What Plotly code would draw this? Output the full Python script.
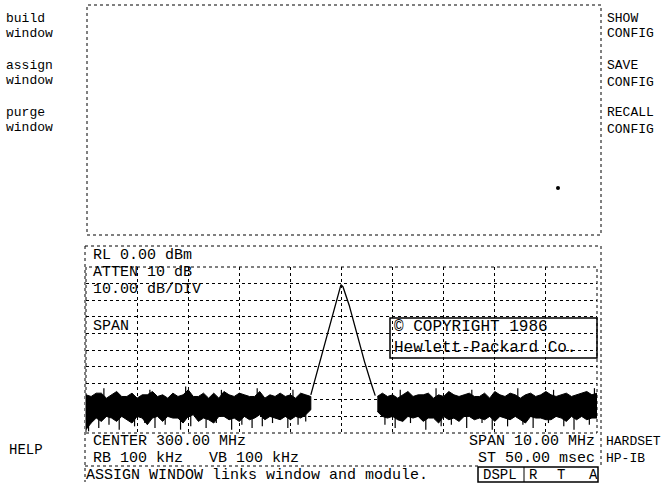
import plotly.graph_objects as go

W, H = 665, 498

# spectrum trace (MHz, dBm)
peak_freq = [299.40, 299.55, 299.70, 299.85, 299.95, 299.99, 300.03, 300.15, 300.30, 300.45, 300.58, 300.66]
peak_db = [-77.0, -60.0, -43.5, -26.7, -15.5, -10.6, -12.0, -23.0, -40.0, -57.0, -70.0, -77.5]

# noise floor envelope, left of the signal
noise_l_freq = [295.0, 295.1, 295.2, 295.3, 295.4, 295.5, 295.6, 295.7, 295.8, 295.9,
                296.0, 296.1, 296.2, 296.3, 296.4, 296.5, 296.6, 296.7, 296.8, 296.9,
                297.0, 297.1, 297.2, 297.3, 297.4, 297.5, 297.6, 297.7, 297.8, 297.9,
                298.0, 298.1, 298.2, 298.3, 298.4, 298.5, 298.6, 298.7, 298.8, 298.9,
                299.0, 299.1, 299.2, 299.3, 299.4]
noise_l_top = [-77, -78, -76, -76, -79, -77, -75, -78, -78, -76, -79, -77, -77, -75, -78,
               -77, -79, -76, -78, -77, -74, -78, -78, -76, -79, -76, -79, -75, -77, -78,
               -76, -77, -78, -78, -75, -79, -77, -78, -76, -78, -77, -79, -76, -77, -78]
noise_l_bot = [-98, -94, -91, -93, -90, -91, -93, -90, -92, -94, -90, -91, -95, -91, -90,
               -93, -90, -91, -91, -94, -90, -89, -93, -91, -92, -94, -90, -90, -92, -91,
               -93, -90, -92, -91, -89, -92, -90, -91, -92, -90, -92, -90, -91, -89, -86]

# noise floor envelope, right of the signal
noise_r_freq = [300.7, 300.8, 300.9, 301.0, 301.1, 301.2, 301.3, 301.4, 301.5, 301.6, 301.7,
                301.8, 301.9, 302.0, 302.1, 302.2, 302.3, 302.4, 302.5, 302.6, 302.7, 302.8,
                302.9, 303.0, 303.1, 303.2, 303.3, 303.4, 303.5, 303.6, 303.7, 303.8, 303.9,
                304.0, 304.1, 304.2, 304.3, 304.4, 304.5, 304.6, 304.7, 304.8, 304.9, 305.0]
noise_r_top = [-78, -76, -78, -77, -79, -77, -75, -78, -77, -77, -76, -79, -77, -78, -75,
               -77, -78, -77, -76, -78, -78, -76, -79, -75, -77, -78, -76, -77, -79, -77,
               -76, -78, -77, -75, -77, -78, -77, -76, -78, -77, -76, -75, -77, -76]
noise_r_bot = [-87, -90, -91, -90, -92, -93, -90, -91, -90, -93, -91, -91, -94, -90, -92,
               -91, -93, -90, -90, -92, -91, -92, -90, -93, -90, -91, -92, -90, -92, -94,
               -90, -91, -91, -92, -92, -90, -91, -93, -90, -92, -90, -92, -91, -91]

# thin spikes in the noise: downward ones and a few upward ones
spike_freq = [295.05, 295.25, 295.45, 295.65, 295.95, 296.15, 296.35, 296.55, 296.85, 297.05, 297.35,
              297.55, 297.85, 298.05, 298.25, 298.45, 298.65, 298.95, 299.15, 299.3,
              300.85, 301.05, 301.35, 301.65, 301.95, 302.15, 302.45, 302.75, 302.95, 303.25,
              303.55, 303.75, 304.05, 304.35, 304.55, 304.85]
spike_db = [-99, -97, -95, -98, -96, -94, -97, -95, -98, -96, -97,
            -94, -98, -95, -97, -96, -94, -97, -95, -93,
            -95, -97, -94, -98, -96, -95, -97, -94, -98, -96,
            -95, -97, -94, -96, -98, -95]
up_freq = [295.35, 296.25, 296.95, 297.65, 298.35, 299.05, 301.15, 301.85, 302.55, 303.45, 304.15, 304.95]
up_db = [-73, -74, -72, -74, -73, -74, -74, -73, -74, -73, -74, -73]

FONT = "Liberation Mono"


def px(x):
    return x / W


def py(y):
    return 1 - y / H


fig = go.Figure()

fig.add_trace(go.Scatter(x=noise_l_freq + noise_l_freq[::-1], y=noise_l_top + noise_l_bot[::-1],
                         fill="toself", fillcolor="black", mode="lines", line=dict(color="black", width=1)))
fig.add_trace(go.Scatter(x=noise_r_freq + noise_r_freq[::-1], y=noise_r_top + noise_r_bot[::-1],
                         fill="toself", fillcolor="black", mode="lines", line=dict(color="black", width=1)))
sx, sy = [], []
for f, d in zip(spike_freq, spike_db):
    sx += [f, f, None]
    sy += [-86, d, None]
for f, d in zip(up_freq, up_db):
    sx += [f, f, None]
    sy += [-80, d, None]
fig.add_trace(go.Scatter(x=sx, y=sy, mode="lines", line=dict(color="black", width=1.2)))
fig.add_trace(go.Scatter(x=peak_freq, y=peak_db, mode="lines", line=dict(color="black", width=1.3)))

grid = dict(showgrid=True, gridcolor="black", griddash="dot", gridwidth=1, zeroline=False,
            showticklabels=False, ticks="", showline=False)
fig.update_xaxes(domain=[px(86), px(597)], range=[295, 305], dtick=1, tick0=295, **grid)
fig.update_yaxes(domain=[py(433), py(267)], range=[-100, 0], dtick=10, tick0=-100, **grid)

dot = dict(color="black", width=1, dash="dot")
shapes = [
    dict(type="rect", xref="paper", yref="paper", x0=px(87), x1=px(601), y0=py(235), y1=py(5), line=dot),
    dict(type="line", xref="paper", yref="paper", x0=px(85), x1=px(601), y0=py(246), y1=py(246), line=dot),
    dict(type="line", xref="paper", yref="paper", x0=px(85), x1=px(85), y0=py(246), y1=py(482), line=dot),
    dict(type="line", xref="paper", yref="paper", x0=px(601), x1=px(601), y0=py(246), y1=py(467), line=dot),
    dict(type="line", xref="paper", yref="paper", x0=px(85), x1=px(478), y0=py(466), y1=py(466), line=dot),
    dict(type="rect", xref="x domain", yref="y domain", x0=0, x1=1, y0=0, y1=1, line=dot),
    dict(type="rect", xref="paper", yref="paper", x0=px(390), x1=px(597), y0=py(358), y1=py(318),
         line=dict(color="black", width=1.5)),
    dict(type="rect", xref="paper", yref="paper", x0=px(478), x1=px(598), y0=py(482), y1=py(467),
         line=dict(color="black", width=1.5)),
    dict(type="line", xref="paper", yref="paper", x0=px(524), x1=px(524), y0=py(482), y1=py(467),
         line=dict(color="black", width=1)),
    dict(type="circle", xref="paper", yref="paper", x0=px(556), x1=px(560), y0=py(190), y1=py(186),
         fillcolor="black", line=dict(width=0)),
]

texts = [
    # x, y, text, anchor, size
    (5, 18, "build", "left", 13), (5, 33, "window", "left", 13),
    (5, 65, "assign", "left", 13), (5, 80, "window", "left", 13),
    (5, 113, "purge", "left", 13), (5, 128, "window", "left", 13),
    (8, 450, "HELP", "left", 14),
    (606, 18, "SHOW", "left", 13), (606, 34, "CONFIG", "left", 13),
    (606, 65, "SAVE", "left", 13), (606, 82, "CONFIG", "left", 13),
    (606, 113, "RECALL", "left", 13), (606, 129, "CONFIG", "left", 13),
    (605, 441, "HARDSET", "left", 13), (605, 458, "HP-IB", "left", 13),
    (92, 255, "RL 0.00 dBm", "left", 15),
    (92, 272, "ATTEN 10 dB", "left", 15),
    (92, 289, "10.00 dB/DIV", "left", 15),
    (92, 326, "SPAN", "left", 15),
    (393, 327, "© COPYRIGHT 1986", "left", 16),
    (393, 348, "Hewlett-Packard Co.", "left", 16),
    (92, 441, "CENTER 300.00 MHz", "left", 15),
    (596, 441, "SPAN 10.00 MHz", "right", 15),
    (92, 458, "RB 100 kHz", "left", 15),
    (208, 458, "VB 100 kHz", "left", 15),
    (596, 458, "ST 50.00 msec", "right", 15),
    (85, 475, "ASSIGN WINDOW links window and module.", "left", 15),
    (482, 475, "DSPL", "left", 14), (528, 475, "R", "left", 14), (556, 475, "T", "left", 14),
    (588, 475, "A", "left", 14),
]
annotations = [dict(x=px(x), y=py(y), xref="paper", yref="paper", text=t, showarrow=False, borderpad=0,
                    xanchor=a, yanchor="middle", font=dict(family=FONT, size=s, color="black"))
               for x, y, t, a, s in texts]

fig.update_layout(width=W, height=H, margin=dict(l=0, r=0, t=0, b=0), showlegend=False,
                  paper_bgcolor="white", plot_bgcolor="white", shapes=shapes, annotations=annotations)
fig.write_html("out.html", config={"displayModeBar": False},
               post_script="document.body.style.margin = '0';")
